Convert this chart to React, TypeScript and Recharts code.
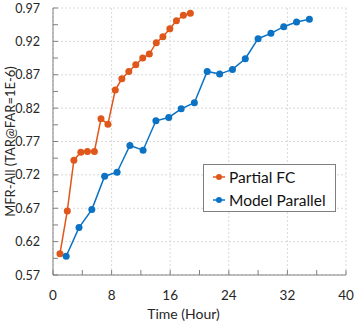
import React from 'react';
import { LineChart, Line, XAxis, YAxis, CartesianGrid, Legend } from 'recharts';

// Partial FC (orange) - time in hours vs MFR-All
const partialFcHours = [0.95, 1.95, 2.85, 3.8, 4.7, 5.65, 6.55, 7.5, 8.5, 9.4, 10.35, 11.3, 12.25, 13.15, 14.1, 15.0, 15.95, 16.85, 17.8, 18.75];
const partialFcValues = [0.602, 0.666, 0.742, 0.754, 0.755, 0.755, 0.804, 0.796, 0.847, 0.864, 0.875, 0.885, 0.895, 0.901, 0.918, 0.927, 0.939, 0.951, 0.959, 0.962];

// Model Parallel (blue)
const modelParallelHours = [1.8, 3.55, 5.3, 7.05, 8.75, 10.5, 12.3, 14.05, 15.8, 17.5, 19.3, 21.05, 22.75, 24.5, 26.25, 28.0, 29.75, 31.5, 33.25, 35.0];
const modelParallelValues = [0.598, 0.641, 0.668, 0.718, 0.724, 0.764, 0.757, 0.801, 0.806, 0.819, 0.828, 0.875, 0.871, 0.878, 0.894, 0.924, 0.932, 0.942, 0.949, 0.953];

const xTicks = [0, 4, 8, 12, 16, 20, 24, 28, 32, 36, 40];
const xMajor = [0, 8, 16, 24, 32, 40];
const yTicks = [0.57, 0.595, 0.62, 0.645, 0.67, 0.695, 0.72, 0.745, 0.77, 0.795, 0.82, 0.845, 0.87, 0.895, 0.92, 0.945, 0.97];
const yMajor = [0.57, 0.62, 0.67, 0.72, 0.77, 0.82, 0.87, 0.92, 0.97];

const ORANGE = '#E0571B';
const BLUE = '#0B72C4';
const AXIS = '#808080';
const FONT = 'Lato, "Open Sans", sans-serif';

const seriesMeta = [
  { key: 'partial', name: 'Partial FC', color: ORANGE },
  { key: 'parallel', name: 'Model Parallel', color: BLUE },
];

const partialData = partialFcHours.map((h, i) => ({ hour: h, partial: partialFcValues[i] }));
const parallelData = modelParallelHours.map((h, i) => ({ hour: h, parallel: modelParallelValues[i] }));

const isMajor = (list: number[], v: number) => list.some((m) => Math.abs(m - v) < 1e-6);

function YTick(props: any) {
  const { x, y, payload } = props;
  return (
    <g>
      <line x1={x} x2={x + 5} y1={y} y2={y} stroke={AXIS} strokeWidth={1} />
      {isMajor(yMajor, payload.value) && (
        <text x={x - 13} y={y} textAnchor="end" dominantBaseline="central" fontSize={12.5} fontFamily={FONT} fill="#262626">
          {payload.value.toFixed(2)}
        </text>
      )}
    </g>
  );
}

function XTick(props: any) {
  const { x, y, payload } = props;
  return (
    <g>
      <line x1={x} x2={x} y1={y} y2={y - 5} stroke={AXIS} strokeWidth={1} />
      {isMajor(xMajor, payload.value) && (
        <text x={x} y={y + 20} textAnchor="middle" dominantBaseline="central" fontSize={13.5} fontFamily={FONT} fill="#262626">
          {payload.value}
        </text>
      )}
    </g>
  );
}

function YLabel(props: any) {
  const { viewBox } = props;
  const cx = viewBox.x + 10;
  const cy = viewBox.y + viewBox.height / 2;
  return (
    <text x={cx} y={cy} transform={`rotate(-90, ${cx}, ${cy})`} textAnchor="middle" dominantBaseline="central" fontSize={13} fontFamily={FONT} fill="#262626">
      MFR-All (TAR@FAR=1E-6)
    </text>
  );
}

function XLabel(props: any) {
  const { viewBox } = props;
  const cx = viewBox.x + viewBox.width / 2 - 16;
  return (
    <text x={cx} y={viewBox.y + 38} textAnchor="middle" dominantBaseline="central" fontSize={14} fontFamily={FONT} fill="#262626">
      Time (Hour)
    </text>
  );
}

function LegendBox() {
  return (
    <div
      style={{
        width: 133,
        height: 48,
        boxSizing: 'border-box',
        border: '1px solid #7f7f7f',
        background: '#fff',
        paddingLeft: 9,
        fontFamily: FONT,
        fontSize: 15.5,
        color: '#111',
      }}
    >
      {seriesMeta.map((s) => (
        <div key={s.key} style={{ display: 'flex', alignItems: 'center', height: 23 }}>
          <svg width={12} height={8} style={{ marginRight: 4 }}>
            <line x1={0} x2={12} y1={4} y2={4} stroke={s.color} strokeWidth={1.5} />
            <circle cx={6} cy={4} r={3} fill={s.color} />
          </svg>
          <span>{s.name}</span>
        </div>
      ))}
    </div>
  );
}

export default function App() {
  return (
    <div style={{ position: 'absolute', left: 0, top: 0, width: 358, height: 324, background: '#fff' }}>
      <LineChart width={358} height={324} margin={{ top: 8, right: 12, bottom: 0, left: 0 }}>
        <CartesianGrid
          horizontalValues={yMajor}
          verticalValues={xMajor}
          stroke="#d9d9d9"
          strokeDasharray="2 2"
        />
        <XAxis
          type="number"
          dataKey="hour"
          domain={[0, 40]}
          ticks={xTicks}
          interval={0}
          height={49}
          tickSize={0}
          tickMargin={0}
          tickLine={false}
          axisLine={{ stroke: AXIS }}
          tick={<XTick />}
          label={<XLabel />}
          allowDuplicatedCategory={false}
        />
        <YAxis
          type="number"
          domain={[0.57, 0.97]}
          ticks={yTicks}
          interval={0}
          width={53}
          tickSize={0}
          tickMargin={0}
          tickLine={false}
          axisLine={{ stroke: AXIS }}
          tick={<YTick />}
          label={<YLabel />}
        />
        <Legend
          layout="vertical"
          align="center"
          verticalAlign="middle"
          content={<LegendBox />}
          wrapperStyle={{ left: 203, top: 164, width: 133, height: 48 }}
        />
        <Line
          data={partialData}
          dataKey="partial"
          name="Partial FC"
          stroke={ORANGE}
          strokeWidth={1.5}
          dot={{ r: 3.5, fill: ORANGE, stroke: ORANGE, strokeWidth: 0 }}
          isAnimationActive={false}
        />
        <Line
          data={parallelData}
          dataKey="parallel"
          name="Model Parallel"
          stroke={BLUE}
          strokeWidth={1.5}
          dot={{ r: 3.5, fill: BLUE, stroke: BLUE, strokeWidth: 0 }}
          isAnimationActive={false}
        />
      </LineChart>
    </div>
  );
}
